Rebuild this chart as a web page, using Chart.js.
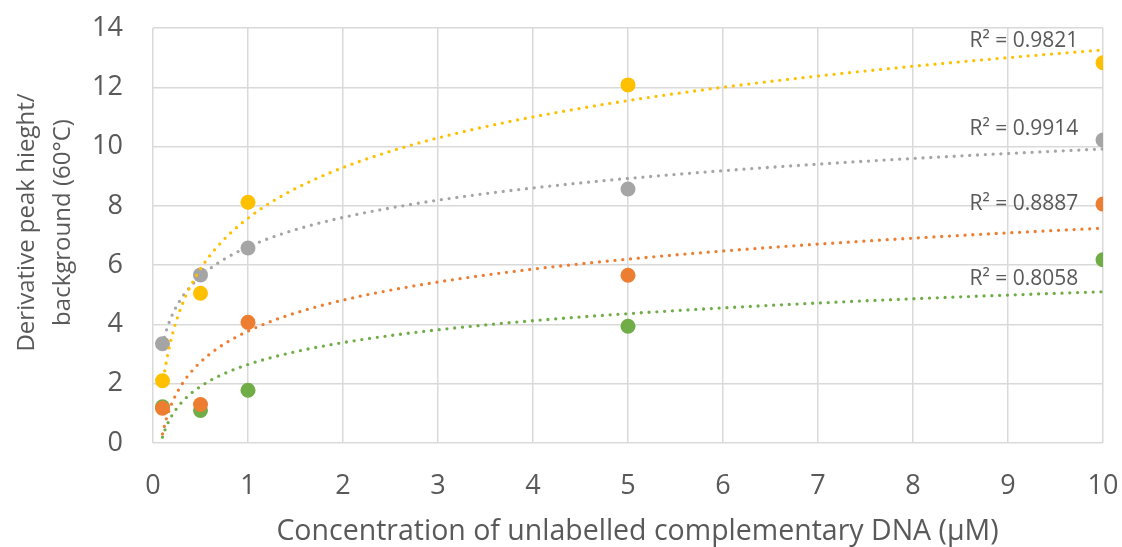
<!DOCTYPE html>
<html>
<head>
<meta charset="utf-8">
<script src="https://cdn.jsdelivr.net/npm/chart.js@4"></script>
<style>
  html, body { margin: 0; padding: 0; background: #ffffff; }
  #wrap { width: 1122px; height: 547px; }
</style>
</head>
<body>
<div id="wrap"><canvas id="chart" width="1122" height="547"></canvas></div>
<script>
// Concentrations of unlabelled complementary DNA (µM)
const concentrations = [0.1, 0.5, 1, 5, 10];

// Derivative peak height / background at 60 °C, one array per series
const seriesYellow = [2.1, 5.05, 8.12, 12.08, 12.83];
const seriesGray   = [3.35, 5.67, 6.58, 8.57, 10.22];
const seriesOrange = [1.17, 1.3, 4.07, 5.66, 8.06];
const seriesGreen  = [1.22, 1.1, 1.78, 3.94, 6.18];

// R² of each logarithmic trendline
const r2Labels = ['R² = 0.9821', 'R² = 0.9914', 'R² = 0.8887', 'R² = 0.8058'];

const xTicks = [0, 1, 2, 3, 4, 5, 6, 7, 8, 9, 10];
const yTicks = [0, 2, 4, 6, 8, 10, 12, 14];

const xTitle = 'Concentration of unlabelled complementary DNA (µM)';
const yTitle = ['Derivative peak hieght/', 'background (60°C)'];

const COLORS = {
  yellow: '#FFC000',
  gray: '#A5A5A5',
  orange: '#ED7D31',
  green: '#70AD47'
};
const TEXT = '#595959';
const GRID = '#D9D9D9';
const FONT = "'Open Sans', 'Noto Sans', sans-serif";

// Least-squares fit of y = a·ln(x) + b
function logFit(xs, ys) {
  const L = xs.map(Math.log);
  const n = xs.length;
  const mL = L.reduce((s, v) => s + v, 0) / n;
  const mY = ys.reduce((s, v) => s + v, 0) / n;
  let sxx = 0, sxy = 0;
  for (let i = 0; i < n; i++) {
    sxx += (L[i] - mL) * (L[i] - mL);
    sxy += (L[i] - mL) * (ys[i] - mY);
  }
  const a = sxy / sxx;
  return { a, b: mY - a * mL };
}

// Sample the fitted curve across the data range
function trendPoints(xs, ys) {
  const { a, b } = logFit(xs, ys);
  const lo = Math.min(...xs), hi = Math.max(...xs);
  const pts = [];
  const steps = 400;
  for (let i = 0; i <= steps; i++) {
    const x = lo + (hi - lo) * i / steps;
    pts.push({ x, y: a * Math.log(x) + b });
  }
  return pts;
}

function points(ys) {
  return concentrations.map((x, i) => ({ x, y: ys[i] }));
}

function markerSet(ys, color, order) {
  return {
    data: points(ys),
    backgroundColor: color,
    borderColor: color,
    pointRadius: 7.5,
    pointHoverRadius: 7.5,
    borderWidth: 0,
    order
  };
}

function trendSet(ys, color) {
  return {
    data: trendPoints(concentrations, ys),
    showLine: true,
    borderColor: color,
    backgroundColor: color,
    borderWidth: 3.3,
    borderDash: [0, 7.8],
    borderCapStyle: 'round',
    pointRadius: 0,
    pointHoverRadius: 0,
    fill: false,
    tension: 0,
    order: 0
  };
}

// R² annotations, right-aligned next to each trendline
const r2Plugin = {
  id: 'r2Labels',
  afterDatasetsDraw(chart, args, opts) {
    const { ctx, scales: { x, y } } = chart;
    ctx.save();
    ctx.font = opts.font;
    ctx.fillStyle = opts.color;
    ctx.textAlign = 'right';
    ctx.textBaseline = 'middle';
    opts.positions.forEach((p, i) => {
      ctx.fillText(r2Labels[i], x.getPixelForValue(p.x), y.getPixelForValue(p.y));
    });
    ctx.restore();
  }
};

// Axis titles: a centred line under the x axis and two rotated lines left of the y axis
const axisTitlePlugin = {
  id: 'axisTitles',
  afterDraw(chart, args, opts) {
    const { ctx, chartArea } = chart;
    ctx.save();
    ctx.fillStyle = opts.color;
    ctx.textAlign = 'center';
    ctx.textBaseline = 'alphabetic';

    ctx.font = opts.xFont;
    const cx = (chartArea.left + chartArea.right) / 2 + opts.xShift;
    ctx.fillText(xTitle, cx, opts.xBaseline);

    ctx.font = opts.yFont;
    const cy = (chartArea.top + chartArea.bottom) / 2 + opts.yShift;
    ctx.translate(0, cy);
    ctx.rotate(-Math.PI / 2);
    yTitle.forEach((line, i) => {
      ctx.fillText(line, 0, opts.yBaselines[i]);
    });
    ctx.restore();
  }
};

// Keep the plot edges where the layout padding puts them
function noEdgePadding(scale) {
  scale.paddingLeft = 0;
  scale.paddingRight = 0;
  scale.paddingTop = 0;
  scale.paddingBottom = 0;
}

new Chart(document.getElementById('chart'), {
  type: 'scatter',
  data: {
    datasets: [
      trendSet(seriesYellow, COLORS.yellow),
      trendSet(seriesGray, COLORS.gray),
      trendSet(seriesOrange, COLORS.orange),
      trendSet(seriesGreen, COLORS.green),
      markerSet(seriesOrange, COLORS.orange, 1),
      markerSet(seriesGray, COLORS.gray, 2),
      markerSet(seriesYellow, COLORS.yellow, 3),
      markerSet(seriesGreen, COLORS.green, 4)
    ]
  },
  options: {
    responsive: false,
    animation: false,
    events: [],
    layout: { padding: { top: 28, right: 19, left: 0, bottom: 0 } },
    plugins: {
      legend: { display: false },
      tooltip: { enabled: false },
      r2Labels: {
        font: "21px " + FONT,
        color: TEXT,
        positions: [
          { x: 9.74, y: 13.57 },
          { x: 9.74, y: 10.58 },
          { x: 9.74, y: 8.05 },
          { x: 9.74, y: 5.52 }
        ]
      },
      axisTitles: {
        color: TEXT,
        xFont: "28.5px " + FONT,
        xShift: 9.5,
        xBaseline: 540,
        yFont: "24px " + FONT,
        yShift: -13,
        yBaselines: [34, 70]
      }
    },
    scales: {
      x: {
        type: 'linear',
        min: 0,
        max: 10,
        afterBuildTicks(scale) { scale.ticks = xTicks.map(v => ({ value: v })); },
        afterFit(scale) { scale.height = 104; noEdgePadding(scale); },
        grid: { color: GRID, lineWidth: 1.5, drawTicks: false },
        border: { display: false },
        ticks: {
          color: TEXT,
          font: { family: FONT, size: 27 },
          padding: 27
        },
        title: { display: false }
      },
      y: {
        type: 'linear',
        min: 0,
        max: 14,
        afterBuildTicks(scale) { scale.ticks = yTicks.map(v => ({ value: v })); },
        afterFit(scale) { scale.width = 153; noEdgePadding(scale); },
        grid: { color: GRID, lineWidth: 1.5, drawTicks: false },
        border: { display: false },
        ticks: {
          color: TEXT,
          font: { family: FONT, size: 27 },
          padding: 30
        },
        title: { display: false }
      }
    }
  },
  plugins: [r2Plugin, axisTitlePlugin]
});
</script>
</body>
</html>
